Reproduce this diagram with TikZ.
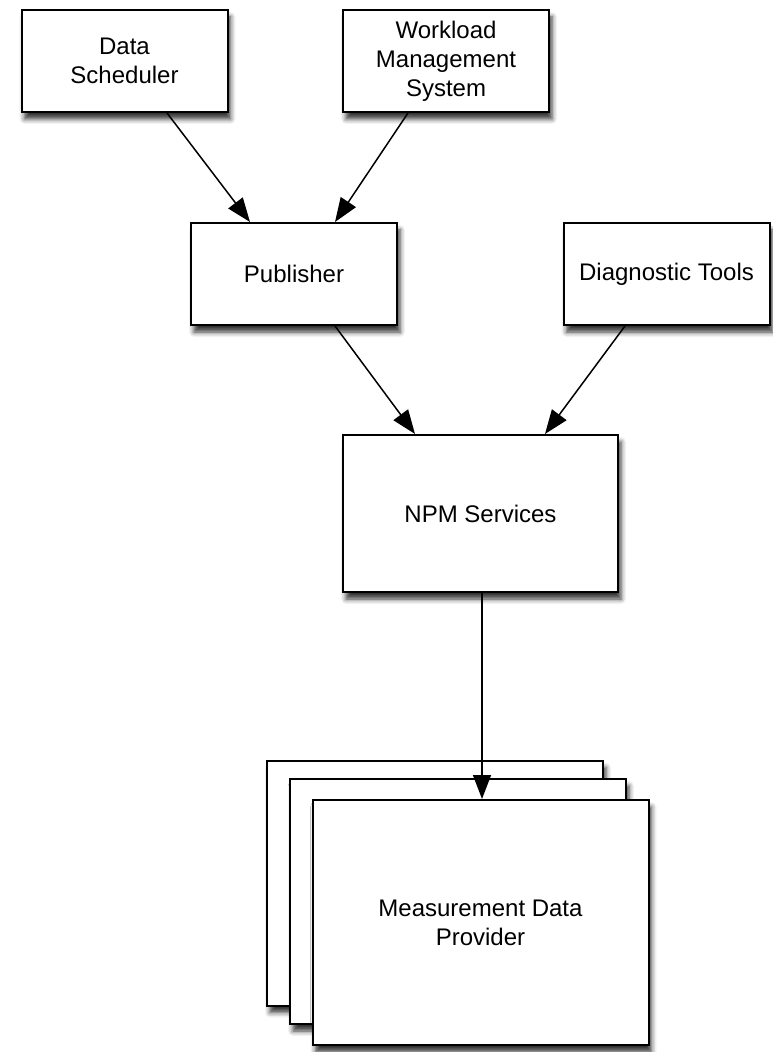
\documentclass[tikz,border=0pt]{standalone}
\usepackage{fontspec}
\setmainfont{Liberation Sans}
\usetikzlibrary{positioning,arrows.meta,shadows.blur}

\begin{document}
\begin{tikzpicture}[on grid,>={Triangle[length=12pt,width=9pt]}]
    \tikzset{box/.style={draw,line width=1pt,fill=white,align=center,
        font=\fontsize{12}{14.5}\selectfont,inner sep=2pt,
        minimum width=103pt,minimum height=51pt,
        blur shadow={shadow xshift=1.5pt,shadow yshift=-3.5pt,shadow blur radius=2.5pt,shadow opacity=80}},
      bigbox/.style={box,minimum width=137.5pt,minimum height=78.5pt},
      provider/.style={box,minimum width=168pt,minimum height=122.5pt},
      link/.style={->,line width=0.75pt}}
    \useasboundingbox (0,0) rectangle (386pt,-526pt);
    \node[box] (sched) at (62.25pt,-30.5pt) {Data\\Scheduler};
    \node[box] (wms) [right=160.75pt of sched] {Workload\\Management\\System};
    \node[box] (pub) [below right=106.5pt and 84.75pt of sched] {Publisher};
    \node[box] (diag) [right=186.25pt of pub] {Diagnostic Tools};
    \node[bigbox] (npm) [below right=119.75pt and 93.25pt of pub] {NPM Services};
    % stack of providers, back to front
    \node[provider] (mdp3) [below left=184.75pt and 22.75pt of npm] {};
    \node[provider] (mdp2) [below right=9.25pt and 11.5pt of mdp3] {};
    \node[provider] (mdp1) [below right=10.5pt and 11.25pt of mdp2] {Measurement Data\\Provider};
    \draw[link] ([xshift=21.25pt]sched.south) -- ([xshift=-22pt]pub.north);
    \draw[link] ([xshift=-19pt]wms.south) -- ([xshift=20.5pt]pub.north);
    \draw[link] ([xshift=20.5pt]pub.south) -- ([xshift=-32.75pt]npm.north);
    \draw[link] ([xshift=-20.75pt]diag.south) -- ([xshift=32.25pt]npm.north);
    \draw[link] ([xshift=0.75pt]npm.south) -- ([xshift=0.75pt]mdp1.north);
\end{tikzpicture}
\end{document}
